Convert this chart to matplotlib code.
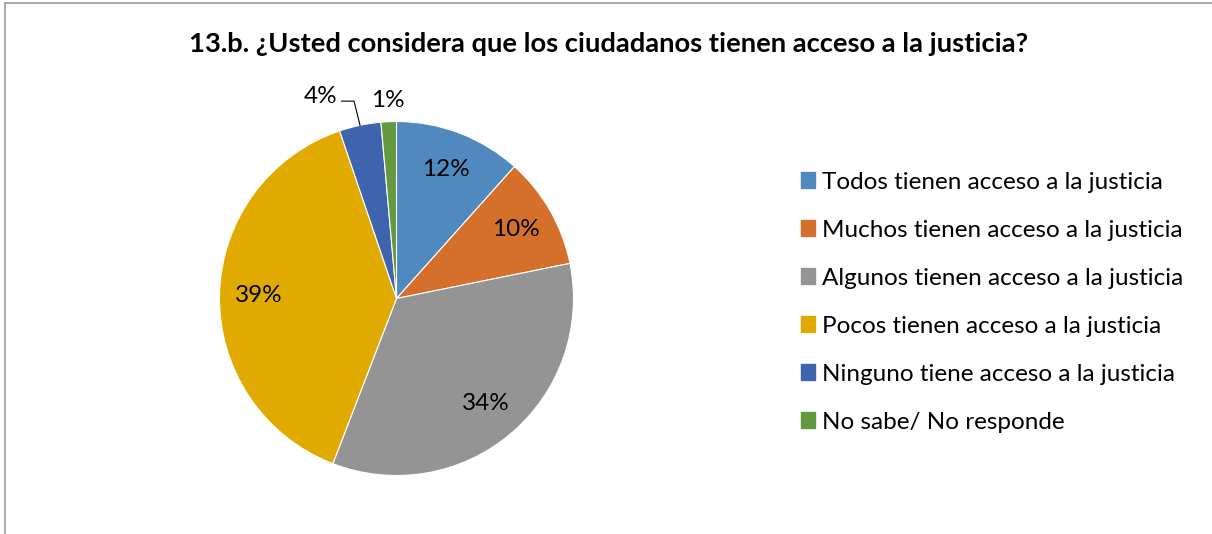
import matplotlib
matplotlib.use("Agg")
import matplotlib.pyplot as plt
from matplotlib.lines import Line2D
import numpy as np

# data
categorias = ["Todos tienen acceso a la justicia",
              "Muchos tienen acceso a la justicia",
              "Algunos tienen acceso a la justicia",
              "Pocos tienen acceso a la justicia",
              "Ninguno tiene acceso a la justicia",
              "No sabe/ No responde"]
porcentajes = [11.6, 10.2, 34.0, 38.9, 3.8, 1.4]
colores = ["#4F89BD", "#D46F2C", "#949494", "#E1AA00", "#3D64AC", "#649A3D"]
titulo = "13.b. ¿Usted considera que los ciudadanos tienen acceso a la justicia?"

plt.rcParams["font.family"] = ["Lato", "DejaVu Sans"]

fig = plt.figure(figsize=(12.12, 5.34), dpi=100)
W, H = 1212, 534

# pie axes: centre (396, 299) px, radius 177 px
cx, cy, r = 396.5, 298.5, 177
ax = fig.add_axes([(cx - r) / W, (H - cy - r) / H, 2 * r / W, 2 * r / H])
wedges, texts, autotexts = ax.pie(
    porcentajes, colors=colores, startangle=90, counterclock=False,
    autopct=lambda p: "%.0f%%" % p, pctdistance=0.78,
    wedgeprops=dict(edgecolor="white", linewidth=0.8),
    textprops=dict(fontsize=17.5, color="black"))
ax.set_xlim(-1, 1)
ax.set_ylim(-1, 1)
ax.set_aspect("equal")

# small slices: labels outside
autotexts[4].set_position((-0.43, 1.14))
autotexts[5].set_position((-0.05, 1.12))
w = wedges[4]
mid = np.deg2rad((w.theta1 + w.theta2) / 2)
ex, ey = np.cos(mid), np.sin(mid)
ax.plot([-0.31, -0.24, ex], [1.115, 1.115, ey], color="black", lw=0.8,
        clip_on=False)

fig.text(0.5025, 1 - 44 / H, titulo, ha="center", va="center",
         fontsize=19.7, fontweight="bold")

handles = [plt.Rectangle((0, 0), 1, 1, color=c) for c in colores]
fig.legend(handles, categorias, loc="upper left",
           bbox_to_anchor=(791 / W, 1 - 162 / H), frameon=False,
           fontsize=17.5, handlelength=0.6, handleheight=0.6,
           handletextpad=0.28, labelspacing=1.11, borderaxespad=0)

# chart border (left and top visible)
fig.add_artist(Line2D([5 / W, 5 / W], [0, 1 - 3 / H], color="#999999",
                      lw=1.2, transform=fig.transFigure))
fig.add_artist(Line2D([5 / W, 1], [1 - 3 / H, 1 - 3 / H], color="#999999",
                      lw=1.2, transform=fig.transFigure))

fig.savefig("out.png", dpi=100)
